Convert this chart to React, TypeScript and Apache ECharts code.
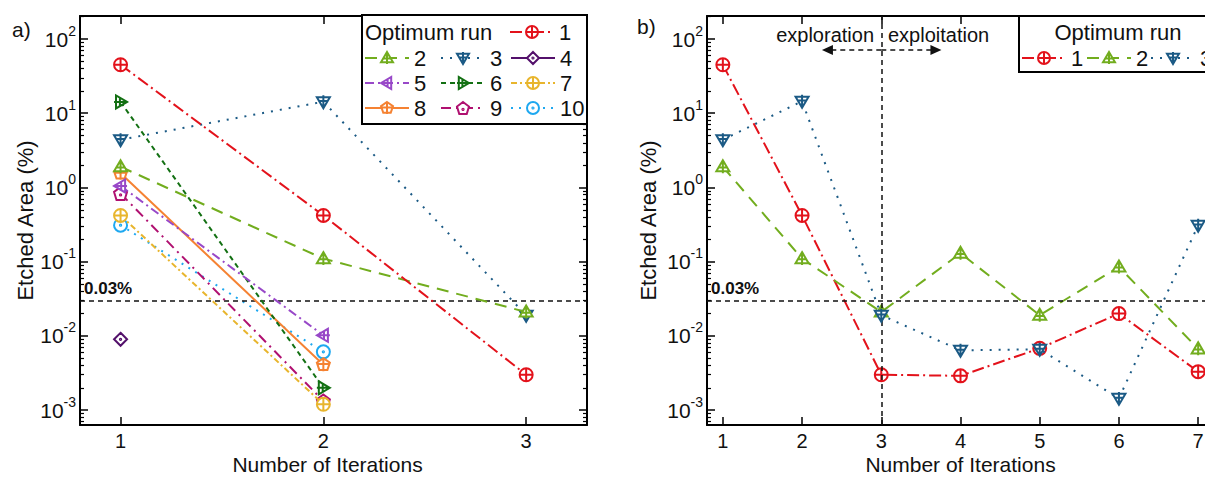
import React, { useEffect, useRef } from "react";
import * as echarts from "echarts";

// ---------- data ----------
const itersA = [1, 2, 3];
const itersB = [1, 2, 3, 4, 5, 6, 7];
const runNames = ["1", "2", "3", "4", "5", "6", "7", "8", "9", "10"];

const runA1 = [45, 0.42, 0.003];
const runA2 = [1.9, 0.11, 0.021];
const runA3 = [4.4, 14.3, 0.019];
const runA4 = [0.009];
const runA5 = [1.05, 0.0102];
const runA6 = [14.2, 0.002];
const runA7 = [0.42, 0.0012];
const runA8 = [1.55, 0.0041];
const runA9 = [0.83, 0.00133];
const runA10 = [0.31, 0.0061];
const runsA = [runA1, runA2, runA3, runA4, runA5, runA6, runA7, runA8, runA9, runA10];

const runB1 = [45, 0.42, 0.003, 0.0029, 0.0068, 0.02, 0.0033];
const runB2 = [1.9, 0.11, 0.021, 0.13, 0.019, 0.085, 0.0067];
const runB3 = [4.4, 14.5, 0.019, 0.0064, 0.0066, 0.00144, 0.31];
const runsB = [runB1, runB2, runB3];

const thresholdValue = 0.03;
const thresholdLabel = "0.03%";
const splitIteration = 3;
const yTickExponents = [-3, -2, -1, 0, 1, 2];
const xTicksA = [1, 2, 3];
const xTicksB = [1, 2, 3, 4, 5, 6, 7];

// ---------- styles ----------
const FONT = "'Liberation Sans', Arial, sans-serif";
const TXT = "#111";
const colors = ["#e3121b", "#72ad1e", "#1b5a85", "#53106b", "#9848c8", "#137013", "#e8b52d", "#f58232", "#b01070", "#1ea8f0"];
const dashes: any[] = [
  [12, 4, 2, 4],
  [12, 8],
  [2, 7],
  "solid",
  [9, 4, 2, 4],
  [5, 4],
  [6, 3, 2, 3],
  "solid",
  [10, 5, 2, 5],
  [2, 6],
];
const P = {
  circlePlus: "M0,10A10,10,0,1,1,20,10A10,10,0,1,1,0,10ZM10,0L10,20M0,10L20,10",
  circleDot: "M0,10A10,10,0,1,1,20,10A10,10,0,1,1,0,10ZM9,10A1,1,0,1,1,11,10A1,1,0,1,1,9,10Z",
  triUp: "M10,0L20,17L0,17ZM10,0L10,20M4,11L16,11",
  triDown: "M0,3L20,3L10,20ZM10,0L10,20M4,9L16,9",
  triLeft: "M0,10L17,0L17,20ZM0,10L20,10M11,4L11,16",
  triRight: "M20,10L3,0L3,20ZM0,10L20,10M9,4L9,16",
  diamondDot: "M10,0L20,10L10,20L0,10ZM9,10A1,1,0,1,1,11,10A1,1,0,1,1,9,10Z",
  pentPlus: "M10,0L19.5,6.9L15.9,18.1L4.1,18.1L0.5,6.9ZM10,0L10,20M0.5,9L19.5,9",
  pentDot: "M10,0L19.5,6.9L15.9,18.1L4.1,18.1L0.5,6.9ZM9,11A1,1,0,1,1,11,11A1,1,0,1,1,9,11Z",
};
const symbols = [P.circlePlus, P.triUp, P.triDown, P.diamondDot, P.triLeft, P.triRight, P.circlePlus, P.pentPlus, P.pentDot, P.circleDot].map(
  (d) => "emptyPath://" + d
);

const legendPosA: Record<string, number[]> = {
  "1": [509, 32],
  "2": [364, 58],
  "3": [440, 58],
  "4": [510, 58],
  "5": [364, 83],
  "6": [440, 83],
  "7": [510, 83],
  "8": [364, 108],
  "9": [440, 108],
  "10": [510, 108],
};
const legendPosB: Record<string, number[]> = { "1": [1021, 58], "2": [1086, 58], "3": [1150, 58] };

const yMin = Math.pow(10, -3.2);
const yMax = Math.pow(10, 2.31);

function yAxis(gridIndex: number, position: string, labels: boolean, nameGap: number) {
  return {
    type: "log",
    logBase: 10,
    gridIndex,
    position,
    min: yMin,
    max: yMax,
    axisLine: { show: true, onZero: false, lineStyle: { color: "#000", width: 2 } },
    axisTick: { show: true, inside: true, length: 8, lineStyle: { color: "#000", width: 1.5 } },
    minorTick: { show: true, splitNumber: 9, length: 4, lineStyle: { color: "#000", width: 1.2 } },
    splitLine: { show: false },
    minorSplitLine: { show: false },
    name: labels ? "Etched Area (%)" : "",
    nameLocation: "middle",
    nameGap,
    nameTextStyle: { fontSize: 22, color: TXT, fontFamily: FONT },
    axisLabel: {
      show: labels,
      margin: 4,
      showMinLabel: false,
      showMaxLabel: false,
      formatter: (v: number) => {
        const e = Math.round(Math.log10(v));
        if (yTickExponents.indexOf(e) < 0) return "";
        return "{b|10}{s|" + e + "}";
      },
      rich: {
        b: { fontSize: 21, color: TXT, fontFamily: FONT },
        s: { fontSize: 14, color: TXT, fontFamily: FONT, padding: [0, 0, 17, 0] },
      },
    },
  };
}

function xAxis(gridIndex: number, position: string, labels: boolean, min: number, max: number, ticks: number[], namePad: number) {
  return {
    type: "value",
    gridIndex,
    position,
    min,
    max,
    axisLine: { show: true, onZero: false, lineStyle: { color: "#000", width: 2 } },
    axisTick: { show: true, inside: true, length: 8, customValues: ticks, lineStyle: { color: "#000", width: 1.5 } },
    splitLine: { show: false },
    axisLabel: { show: labels, customValues: ticks, fontSize: 20, lineHeight: 18, color: TXT, fontFamily: FONT, margin: 7 },
    name: labels ? "Number of Iterations" : "",
    nameLocation: "middle",
    nameGap: 29,
    nameMoveOverlap: false,
    nameTextStyle: { fontSize: 21, lineHeight: 20, color: TXT, fontFamily: FONT, padding: [0, namePad, 0, 0] },
  };
}

const thresholdMark = {
  silent: true,
  symbol: "none",
  lineStyle: { color: "#111", type: [5, 4], width: 1.5 },
  label: {
    show: true,
    position: "insideStartTop",
    formatter: thresholdLabel,
    fontSize: 17,
    fontWeight: "bold",
    color: TXT,
    fontFamily: FONT,
    distance: 4,
  },
  data: [{ yAxis: thresholdValue }],
};

export default function App() {
  const ref = useRef<HTMLDivElement>(null);
  useEffect(() => {
    if (!ref.current) return;
    const chart = echarts.init(ref.current, undefined, { renderer: "svg" });

    const series: any[] = [];
    runsA.forEach((vals, i) => {
      series.push({
        type: "line",
        name: runNames[i],
        xAxisIndex: 0,
        yAxisIndex: 0,
        data: vals.map((v, j) => [itersA[j], v]),
        symbol: symbols[i],
        symbolSize: 13,
        lineStyle: { color: colors[i], width: 2, type: dashes[i] },
        itemStyle: { color: colors[i] },
        z: 3 + (10 - i),
        markLine: i === 0 ? thresholdMark : undefined,
      });
    });
    const arrowY = Math.pow(10, 1.852);
    runsB.forEach((vals, i) => {
      series.push({
        type: "line",
        name: runNames[i],
        xAxisIndex: 2,
        yAxisIndex: 2,
        data: vals.map((v, j) => [itersB[j], v]),
        symbol: symbols[i],
        symbolSize: 13,
        lineStyle: { color: colors[i], width: 2, type: dashes[i] },
        itemStyle: { color: colors[i] },
        z: 3 + i,
        markLine:
          i === 0
            ? {
                ...thresholdMark,
                data: [
                  { yAxis: thresholdValue },
                  { xAxis: splitIteration, label: { show: false } },
                  [
                    { coord: [splitIteration, arrowY], symbol: "none" },
                    { coord: [2.32, arrowY], symbol: "triangle", symbolSize: [10, 11], label: { show: false } },
                  ],
                  [
                    { coord: [splitIteration, arrowY], symbol: "none" },
                    { coord: [3.69, arrowY], symbol: "triangle", symbolSize: [10, 11], label: { show: false } },
                  ],
                ],
              }
            : undefined,
      });
    });

    const legendBase = {
      orient: "horizontal",
      itemWidth: 44,
      itemHeight: 15,
      itemGap: 0,
      padding: 0,
      selectedMode: false,
      textStyle: { fontSize: 22, color: TXT, fontFamily: FONT, lineHeight: 22 },
    };
    const legends: any[] = [];
    Object.keys(legendPosA).forEach((k) => {
      legends.push({ ...legendBase, data: [k], left: legendPosA[k][0], top: legendPosA[k][1] - 11 });
    });
    Object.keys(legendPosB).forEach((k) => {
      legends.push({ ...legendBase, data: [k], left: legendPosB[k][0], top: legendPosB[k][1] - 11 });
    });

    const option: any = {
      animation: false,
      backgroundColor: "#fff",
      textStyle: { fontFamily: FONT },
      grid: [
        { left: 80, top: 16, width: 507, height: 409, outerBoundsMode: "none", containLabel: false },
        { left: 707, top: 16, width: 507, height: 409, outerBoundsMode: "none", containLabel: false },
      ],
      xAxis: [
        xAxis(0, "bottom", true, 0.8, 3.3, xTicksA, 12),
        xAxis(0, "top", false, 0.8, 3.3, xTicksA, 0),
        xAxis(1, "bottom", true, 0.8, 7.2, xTicksB, 0),
        xAxis(1, "top", false, 0.8, 7.2, xTicksB, 0),
      ],
      yAxis: [yAxis(0, "left", true, 44), yAxis(0, "right", false, 0), yAxis(1, "left", true, 48), yAxis(1, "right", false, 0)],
      legend: legends,
      series,
      graphic: [
        { type: "text", x: 12, y: 29, z: 10, style: { text: "a)", fontSize: 21, fill: TXT, fontFamily: FONT, verticalAlign: "middle" } },
        { type: "text", x: 637, y: 26, z: 10, style: { text: "b)", fontSize: 21, fill: TXT, fontFamily: FONT, verticalAlign: "middle" } },
        { type: "rect", z: 1, shape: { x: 362, y: 15, width: 225, height: 109 }, style: { fill: "#fff", stroke: "#000", lineWidth: 2 } },
        { type: "text", x: 365, y: 32, z: 10, style: { text: "Optimum run", fontSize: 22, fill: TXT, fontFamily: FONT, verticalAlign: "middle" } },
        { type: "rect", z: 1, shape: { x: 1019, y: 16, width: 200, height: 56 }, style: { fill: "#fff", stroke: "#000", lineWidth: 2 } },
        { type: "text", x: 1118, y: 32, z: 10, style: { text: "Optimum run", fontSize: 22, fill: TXT, fontFamily: FONT, align: "center", verticalAlign: "middle" } },
        { type: "text", x: 874, y: 35, z: 10, style: { text: "exploration", fontSize: 20, fill: TXT, fontFamily: FONT, align: "right", verticalAlign: "middle" } },
        { type: "text", x: 888, y: 35, z: 10, style: { text: "exploitation", fontSize: 20, fill: TXT, fontFamily: FONT, align: "left", verticalAlign: "middle" } },
      ],
    };
    chart.setOption(option);
    return () => chart.dispose();
  }, []);
  return <div ref={ref} style={{ position: "fixed", left: 0, top: 0, width: 1205, height: 479, background: "#fff" }} />;
}
